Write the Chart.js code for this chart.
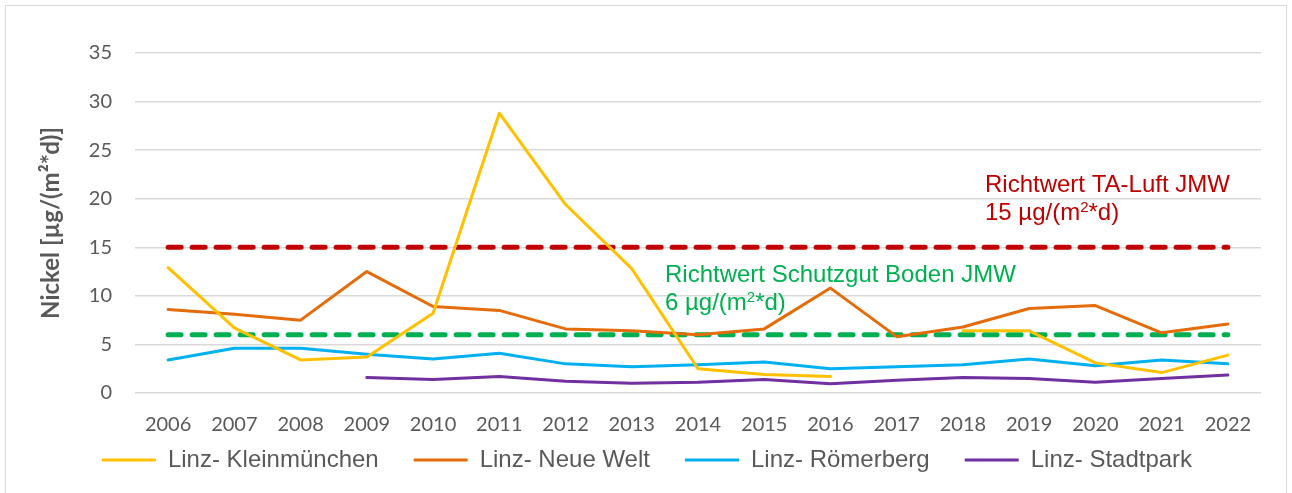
<!DOCTYPE html>
<html>
<head>
<meta charset="utf-8">
<script src="https://cdn.jsdelivr.net/npm/chart.js@4.4.1/dist/chart.umd.min.js"></script>
<style>
  html, body { margin: 0; padding: 0; background: #fff; }
  #wrap { width: 1292px; height: 493px; }
</style>
</head>
<body>
<div id="wrap"><canvas id="nickel-chart"></canvas></div>
<script>
const years = ['2006', '2007', '2008', '2009', '2010', '2011', '2012', '2013', '2014',
               '2015', '2016', '2017', '2018', '2019', '2020', '2021', '2022'];

const kleinmuenchen = [12.9, 6.7, 3.4, 3.7, 8.2, 28.8, 19.4, 12.8, 2.5, 1.9, 1.7, null, 6.4, 6.4, 3.1, 2.1, 3.9];
const neueWelt      = [8.6, 8.1, 7.5, 12.5, 8.9, 8.5, 6.6, 6.4, 6.0, 6.6, 10.8, 5.8, 6.8, 8.7, 9.0, 6.2, 7.1];
const roemerberg    = [3.4, 4.6, 4.6, 4.0, 3.5, 4.1, 3.0, 2.7, 2.9, 3.2, 2.5, 2.7, 2.9, 3.5, 2.8, 3.4, 3.0];
const stadtpark     = [null, null, null, 1.6, 1.4, 1.7, 1.2, 1.0, 1.1, 1.4, 0.95, 1.3, 1.6, 1.5, 1.1, 1.5, 1.85];

// Richtwerte (limit lines)
const taLuft  = [15, 15, 15, 15, 15, 15, 15, 15, 15, 15, 15, 15, 15, 15, 15, 15, 15];
const boden   = [6, 6, 6, 6, 6, 6, 6, 6, 6, 6, 6, 6, 6, 6, 6, 6, 6];

const yTicks = { min: 0, max: 35, step: 5 };

const grey = '#595959';
const arial = 'Liberation Sans, Arial, sans-serif';
const calibri = 'Lato, Carlito, Calibri, sans-serif';

function series(label, data, color) {
    return {
        label: label,
        data: data,
        borderColor: color,
        backgroundColor: color,
        borderWidth: 3,
        pointRadius: 0,
        pointHoverRadius: 0,
        tension: 0,
        borderJoinStyle: 'round',
        borderCapStyle: 'round',
        spanGaps: false
    };
}

function limitLine(label, data, color) {
    return {
        ...series(label, data, color),
        borderWidth: 5,
        borderDash: [13, 11],
        borderCapStyle: 'round'
    };
}

// white background + light frame round the whole chart
const frame = {
    id: 'frame',
    beforeDraw(chart) {
        const ctx = chart.ctx;
        ctx.save();
        ctx.fillStyle = '#fff';
        ctx.fillRect(0, 0, chart.width, chart.height);
        ctx.strokeStyle = '#d9d9d9';
        ctx.lineWidth = 1;
        ctx.strokeRect(5.5, 5.5, 1281, 500);
        ctx.restore();
    }
};

// the x axis box is kept short so the legend sits close; let its labels show below it
const xLabelRoom = {
    id: 'xLabelRoom',
    afterLayout(chart) {
        const x = chart.scales.x;
        x.bottom = x.top + 46;
    }
};

function drawNote(ctx, x, y, line1, pre, post, color) {
    ctx.fillStyle = color;
    ctx.textBaseline = 'alphabetic';
    ctx.font = '24px ' + arial;
    ctx.fillText(line1, x, y);
    const y2 = y + 28;
    ctx.fillText(pre, x, y2);
    let cx = x + ctx.measureText(pre).width;
    ctx.font = '15px ' + arial;
    ctx.fillText('2', cx, y2 - 8);
    cx += ctx.measureText('2').width;
    ctx.font = '24px ' + arial;
    ctx.fillText(post, cx, y2);
}

const notes = {
    id: 'notes',
    afterDatasetsDraw(chart) {
        const ctx = chart.ctx;
        ctx.save();
        drawNote(ctx, 985, 192, 'Richtwert TA-Luft JMW', '15 µg/(m', '*d)', '#C00000');
        drawNote(ctx, 665, 282, 'Richtwert Schutzgut Boden JMW', '6 µg/(m', '*d)', '#00B050');
        ctx.restore();
    }
};

document.addEventListener('DOMContentLoaded', () => {
    let ctx = document.getElementById('nickel-chart').getContext('2d');
    window.nickelChart = new Chart(ctx, {
        type: 'line',
        data: {
            labels: years,
            datasets: [
                series('Linz- Kleinmünchen', kleinmuenchen, '#FFC000'),
                series('Linz- Neue Welt', neueWelt, '#E46C0A'),
                series('Linz- Römerberg', roemerberg, '#00B0F0'),
                series('Linz- Stadtpark', stadtpark, '#7030A0'),
                limitLine('Richtwert TA-Luft JMW', taLuft, '#C00000'),
                limitLine('Richtwert Schutzgut Boden JMW', boden, '#00B050')
            ]
        },
        options: {
            responsive: true,
            maintainAspectRatio: false,
            animation: false,
            layout: {
                padding: { left: 33, right: 31, top: 53, bottom: 11 }
            },
            scales: {
                x: {
                    offset: true,
                    grid: { display: false },
                    border: { display: false },
                    afterFit: (scale) => { scale.height = 20; },
                    ticks: {
                        color: grey,
                        font: { family: calibri, size: 20 },
                        padding: 12,
                        maxRotation: 0,
                        autoSkip: false
                    }
                },
                y: {
                    min: yTicks.min,
                    max: yTicks.max,
                    afterFit: (scale) => { scale.width = 102; },
                    grid: {
                        color: '#d9d9d9',
                        lineWidth: 1.5,
                        drawTicks: false
                    },
                    border: { display: false },
                    ticks: {
                        stepSize: yTicks.step,
                        color: grey,
                        font: { family: calibri, size: 20 },
                        padding: 23
                    },
                    title: {
                        display: true,
                        text: 'Nickel [µg/(m²*d)]',
                        color: grey,
                        font: { family: calibri, size: 24, weight: 'bold' },
                        padding: { top: 4, bottom: 4 }
                    }
                }
            },
            plugins: {
                legend: {
                    position: 'bottom',
                    labels: {
                        color: grey,
                        font: { family: arial, size: 24 },
                        boxWidth: 54,
                        boxHeight: 3,
                        padding: 35,
                        generateLabels: (chart) => Chart.defaults.plugins.legend.labels.generateLabels(chart)
                            .filter((item) => item.datasetIndex < 4)
                            .map((item) => ({ ...item, lineWidth: 0, fillStyle: item.strokeStyle }))
                    }
                },
                tooltip: { enabled: false }
            }
        },
        plugins: [frame, xLabelRoom, notes]
    });
});
</script>
</body>
</html>
